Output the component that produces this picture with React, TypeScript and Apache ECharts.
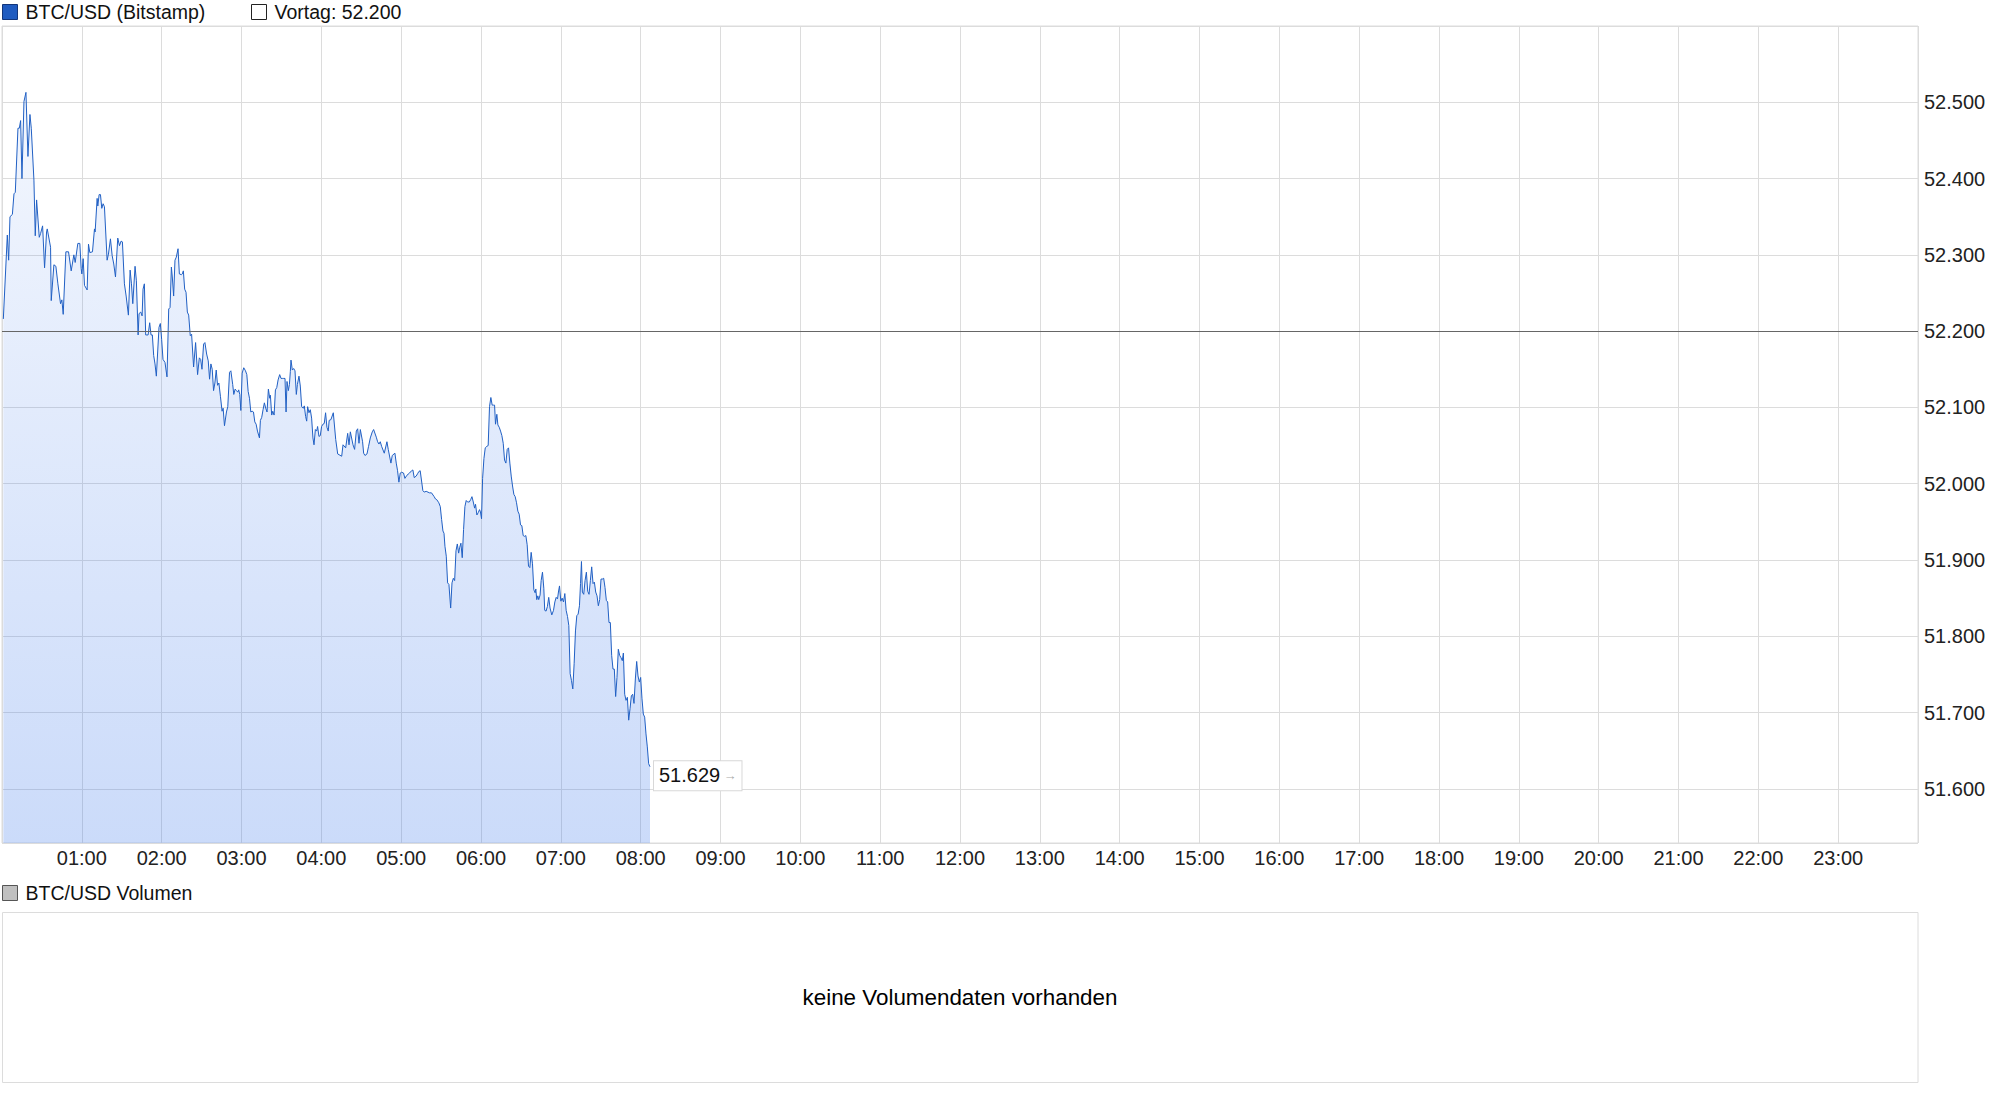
import React, { useEffect, useRef } from "react";
import * as echarts from "echarts";

const FONT = '"Liberation Sans", Arial, Helvetica, sans-serif';

const seriesName = "BTC/USD (Bitstamp)";
const volumeName = "BTC/USD Volumen";
const noVolumeText = "keine Volumendaten vorhanden";
const previousClose = 52200;
const lastPrice = 51629;

// minutes since 00:00
const minutes = [
  1, 4, 5, 6, 7.8, 9, 10, 12, 13, 14, 15, 16.5, 18, 19.5, 21, 22, 24, 25, 26, 28, 29, 30.5, 32, 33.5, 34, 36.5, 37, 39, 40.5, 42, 44, 45, 46, 48, 50, 52, 54, 55, 57, 58.5, 59.5, 60, 61, 62, 64, 65, 66, 68, 69.5, 70, 71.5, 72, 73, 74, 75, 76, 77, 79, 80,
  81.5, 82.8, 84, 85.3, 87, 88.3, 89.5, 90.5, 92, 93.3, 95, 96.3, 97.3, 98.3, 100, 101, 102.3, 103, 104.3, 105.3, 106, 107, 108, 109.8, 111, 112, 113, 114, 115, 116, 118, 119, 120, 121, 122.5, 124, 125.3, 126.3, 127.3, 128, 129, 130, 131, 132.3, 133.3, 134.8, 135.5, 136.3, 137.3, 138.3, 139.3, 140.3, 141.5, 142.5, 144, 145.5, 147, 148.3, 149.3, 150.3, 151.5, 152.5, 153.8, 155, 156, 157, 158, 159, 160, 161, 162, 163,
  164.2, 165.4, 166.2, 167.2, 168.7, 169.7, 171, 172, 173.4, 174.2, 175.2, 176.2, 177.2, 177.9, 178.7, 179.5, 180.5, 181.7, 183, 184, 185, 186, 187, 188, 189, 190, 191, 192, 193.5, 194.2, 195.2, 196.2, 197.2, 198.2, 199.2, 200.2, 201.2, 201.7, 202.7, 203.5, 204.5, 205.5, 206.5, 207.5, 208.7, 209.7, 210.7, 211.7, 212.7, 213.5, 214.2, 215.2, 216, 216.7, 217.2, 218.2, 219.2, 220.2, 221.2, 222, 223.2, 224.2, 225.2, 226.5, 227.2, 228.2, 229, 229.7, 230.7, 231.7, 232.7, 233.7, 234.5, 235.5, 236.5, 237.2, 238.2, 239.2, 240.2, 241.2, 242.2, 243.2, 244.2, 245.2, 245.9,
  247.2, 249, 250.8, 252.3, 255.3, 256.3, 258.3, 259.8, 260.8, 261.8, 263.8, 265, 266.3, 267.3, 268.3, 269.3, 271, 271.8, 272.8, 274.3, 275.5, 276.8, 278.3, 279.3, 281.3, 282.3, 283.3, 284.3, 285.3, 287.3, 289.3, 290.3, 292.3, 293.3, 295.3, 296.3, 297.3, 298.3, 299.3, 300.3, 301.8, 302.8, 304.3, 306.3, 307.8, 308.8, 309.8, 311.3, 312.3, 313.3, 314.3, 316.3, 317.3, 318.8, 321.3, 322.8, 324.8, 325.8, 326.8, 328.3,
  329.4, 330.4, 331.4, 332.2, 332.9, 333.9, 334.9, 335.9, 337.2, 338.2, 339.2, 340.2, 341.2, 342.2, 343.2, 343.9, 344.9, 345.9, 346.9, 347.9, 348.9, 349.9, 351.2, 352.2, 353.2, 354.2, 355.2, 355.9, 356.9, 357.9, 358.9, 359.6, 360.4, 361.2, 362.2, 363.2, 364.4, 365.4, 366.4, 367.4, 368.4, 369.4, 370.2, 370.9, 371.9, 372.7, 373.7, 374.7, 375.7, 376.7, 377.7, 378.7, 379.7, 380.7, 381.7, 382.7, 383.7, 384.7, 385.7, 386.7, 387.7, 388.7, 389.7, 390.7, 391.7, 392.7, 393.7, 394.7, 395.7, 396.7, 397.7, 398.7, 399.7, 400.7, 401.2, 401.9, 402.7, 403.4, 404.4, 405.2, 406.2, 407.2, 407.9, 408.9, 409.9, 410.9, 411.9,
  413.2, 414.5, 415.5, 416.5, 417.5, 418.2, 419, 420, 421, 422, 423, 424, 425, 426, 427, 428, 429, 430, 431, 432, 433, 434, 434.8, 435.5, 436.2, 437.2, 438.2, 439.2, 440.2, 441.2, 442.2, 443.2, 444.2, 445.2, 446.2, 447.2, 448.2, 449.2, 450.2, 451.2, 452.2, 453.2, 454.2, 455.2, 456.2, 457.2, 458.2, 459.2, 460.2, 461.2, 462.2, 463.2, 464.2, 465.2, 466.2, 467, 468, 469, 470, 471, 472, 473, 474, 475, 476, 477, 478, 479, 480, 481, 482, 483, 484, 485, 486, 487,
];

// USD
const prices = [
  52216, 52326, 52293, 52350, 52353, 52380, 52382, 52466, 52466, 52476, 52400, 52501, 52513, 52429, 52484, 52466, 52398, 52325, 52372, 52323, 52328, 52338, 52283, 52330, 52334, 52310, 52240, 52287, 52285, 52262, 52236, 52241, 52222, 52304, 52304, 52279, 52300, 52290, 52315, 52315, 52282, 52275, 52295, 52260, 52254, 52314, 52303, 52304, 52334, 52330, 52374, 52364, 52379, 52379, 52361, 52367, 52363, 52293, 52301,
  52321, 52299, 52288, 52271, 52322, 52312, 52318, 52317, 52262, 52246, 52221, 52280, 52262, 52236, 52285, 52266, 52195, 52223, 52225, 52220, 52255, 52262, 52195, 52195, 52211, 52195, 52195, 52168, 52157, 52141, 52205, 52210, 52189, 52163, 52159, 52140, 52229, 52231, 52284, 52271, 52246, 52293, 52297, 52308, 52275, 52274, 52275, 52279, 52255, 52251, 52225, 52221, 52194, 52196, 52153, 52185, 52143, 52165, 52163, 52150, 52183, 52185, 52170, 52161, 52137, 52157, 52150, 52122, 52132, 52149, 52129, 52132,
  52114, 52095, 52099, 52076, 52094, 52101, 52146, 52148, 52130, 52117, 52124, 52122, 52120, 52123, 52117, 52096, 52145, 52152, 52148, 52143, 52121, 52112, 52094, 52095, 52094, 52081, 52078, 52069, 52060, 52083, 52087, 52097, 52106, 52099, 52094, 52124, 52112, 52116, 52090, 52095, 52090, 52123, 52126, 52136, 52143, 52138, 52138, 52138, 52138, 52094, 52134, 52122, 52130, 52147, 52162, 52149, 52151, 52148, 52117, 52130, 52141, 52128, 52101, 52099, 52102, 52088, 52082, 52101, 52093, 52097, 52086, 52060, 52051, 52071, 52069, 52075, 52062, 52063, 52075, 52078, 52079, 52093, 52074, 52069, 52083,
  52084, 52093, 52058, 52039, 52036, 52051, 52047, 52066, 52051, 52068, 52051, 52045, 52069, 52072, 52053, 52071, 52055, 52040, 52037, 52039, 52049, 52060, 52068, 52071, 52061, 52055, 52052, 52055, 52049, 52040, 52055, 52045, 52027, 52037, 52040, 52027, 52017, 52002, 52014, 52015, 52014, 52007, 52011, 52014, 52017, 52018, 52008, 52010, 52013, 52016, 52017, 51991, 51989, 51990, 51988, 51988, 51983, 51980, 51979, 51975,
  51970, 51953, 51938, 51935, 51918, 51905, 51870, 51868, 51837, 51870, 51876, 51873, 51912, 51921, 51909, 51916, 51922, 51903, 51940, 51970, 51978, 51976, 51976, 51979, 51983, 51976, 51968, 51973, 51959, 51962, 51966, 51963, 51954, 52007, 52033, 52047, 52049, 52050, 52101, 52113, 52103, 52103, 52103, 52078, 52091, 52077, 52074, 52069, 52063, 52053, 52031, 52027, 52045, 52047, 52027, 52010, 51997, 51986, 51983, 51975, 51964, 51960, 51946, 51945, 51932, 51931, 51932, 51920, 51892, 51890, 51910, 51895, 51861, 51857, 51862, 51848, 51853, 51848, 51854, 51873, 51884, 51863, 51834, 51833, 51839, 51851, 51837,
  51828, 51834, 51845, 51851, 51849, 51858, 51866, 51846, 51850, 51845, 51856, 51834, 51826, 51814, 51751, 51742, 51731, 51764, 51807, 51827, 51829, 51840, 51869, 51898, 51858, 51855, 51873, 51884, 51859, 51855, 51873, 51891, 51869, 51871, 51858, 51853, 51840, 51848, 51875, 51875, 51876, 51864, 51847, 51845, 51818, 51818, 51775, 51757, 51757, 51721, 51746, 51783, 51775, 51772, 51768, 51778, 51724, 51716, 51720, 51690, 51705, 51722, 51724, 51712, 51744, 51767, 51748, 51740, 51746, 51718, 51698, 51694, 51672, 51655, 51633, 51629,
];

const yMin = 51529;
const yMax = 52600;

const fmtDe = (v: number) =>
  String(Math.round(v)).replace(/\B(?=(\d{3})+(?!\d))/g, ".");
const fmtHour = (v: number) => {
  const h = Math.round(v / 60);
  return (h < 10 ? "0" : "") + h + ":00";
};

export default function App() {
  const ref = useRef<HTMLDivElement>(null);

  useEffect(() => {
    if (!ref.current) return;
    const chart = echarts.init(ref.current, undefined, { renderer: "svg" });
    const data = minutes.map((m, i) => [m, prices[i]]);
    const lineColor = "#2160c4";
    const legendFont = 19.5;
    chart.setOption({
      animation: false,
      backgroundColor: "#ffffff",
      textStyle: { fontFamily: FONT },
      grid: {
        left: 2,
        top: 26,
        right: 79,
        bottom: 260,
        show: true,
        borderColor: "#dcdcdc",
        borderWidth: 1,
        containLabel: false,
        outerBoundsMode: "none",
      },
      xAxis: {
        type: "value",
        min: 0,
        max: 1440,
        interval: 60,
        axisLine: { show: false },
        axisTick: { show: false },
        splitLine: { show: true, lineStyle: { color: "#dcdcdc", width: 1 } },
        axisLabel: {
          margin: 5,
          fontSize: 20,
          color: "#222",
          fontFamily: FONT,
          showMinLabel: false,
          showMaxLabel: false,
          formatter: (v: number) => fmtHour(v),
        },
      },
      yAxis: {
        type: "value",
        position: "right",
        min: yMin,
        max: yMax,
        splitNumber: 10,
        axisLine: { show: false },
        axisTick: { show: false },
        splitLine: { show: true, lineStyle: { color: "#dcdcdc", width: 1 } },
        axisLabel: {
          margin: 6,
          fontSize: 20,
          color: "#222",
          fontFamily: FONT,
          showMinLabel: false,
          showMaxLabel: false,
          formatter: (v: number) => fmtDe(v),
        },
      },
      series: [
        {
          name: seriesName,
          type: "line",
          data,
          showSymbol: false,
          symbol: "none",
          silent: true,
          lineStyle: { color: lineColor, width: 1 },
          areaStyle: {
            origin: "start",
            color: new echarts.graphic.LinearGradient(0, 0, 0, 1, [
              { offset: 0, color: "rgba(60,120,235,0.09)" },
              { offset: 1, color: "rgba(60,120,235,0.38)" },
            ]),
          },
          endLabel: {
            show: true,
            distance: 4,
            offset: [0, 9],
            formatter: () => "{v|" + fmtDe(lastPrice) + "} {a|→}",
            backgroundColor: "#ffffff",
            borderColor: "#d8d8d8",
            borderWidth: 1,
            padding: [4, 5, 5, 5],
            rich: {
              v: { fontSize: 20, lineHeight: 20, color: "#111", fontFamily: FONT },
              a: { fontSize: 13, color: "#aaaaaa", fontFamily: FONT },
            },
          },
          markLine: {
            silent: true,
            symbol: "none",
            label: { show: false },
            lineStyle: { color: "#666666", width: 1, type: "solid" },
            data: [{ yAxis: previousClose }],
          },
        },
      ],
      graphic: [
        {
          type: "rect",
          shape: { x: 2.5, y: 4.5, width: 15, height: 15 },
          style: { fill: "#1f5bc0", stroke: "#12357a", lineWidth: 1 },
        },
        {
          type: "text",
          x: 25.5,
          y: 12,
          style: {
            text: seriesName,
            fontSize: legendFont,
            fontFamily: FONT,
            fill: "#111",
            verticalAlign: "middle",
          },
        },
        {
          type: "rect",
          shape: { x: 251.5, y: 4.5, width: 15, height: 15 },
          style: { fill: "#ffffff", stroke: "#222", lineWidth: 1 },
        },
        {
          type: "text",
          x: 274.5,
          y: 12,
          style: {
            text: "Vortag: " + fmtDe(previousClose),
            fontSize: legendFont,
            fontFamily: FONT,
            fill: "#111",
            verticalAlign: "middle",
          },
        },
        {
          type: "rect",
          shape: { x: 2.5, y: 885.5, width: 15, height: 15 },
          style: { fill: "#c0c0c0", stroke: "#555", lineWidth: 1 },
        },
        {
          type: "text",
          x: 25.5,
          y: 893,
          style: {
            text: volumeName,
            fontSize: legendFont,
            fontFamily: FONT,
            fill: "#111",
            verticalAlign: "middle",
          },
        },
        {
          type: "rect",
          shape: { x: 2.5, y: 912.5, width: 1915.5, height: 170 },
          style: { fill: "none", stroke: "#dcdcdc", lineWidth: 1 },
        },
        {
          type: "text",
          x: 960,
          y: 997,
          style: {
            text: noVolumeText,
            fontSize: 22.4,
            fontFamily: FONT,
            fill: "#000",
            align: "center",
            verticalAlign: "middle",
          },
        },
      ],
    });
    return () => chart.dispose();
  }, []);

  return (
    <div
      ref={ref}
      style={{
        position: "absolute",
        left: 0,
        top: 0,
        width: 1997,
        height: 1103,
        background: "#fff",
      }}
    />
  );
}
